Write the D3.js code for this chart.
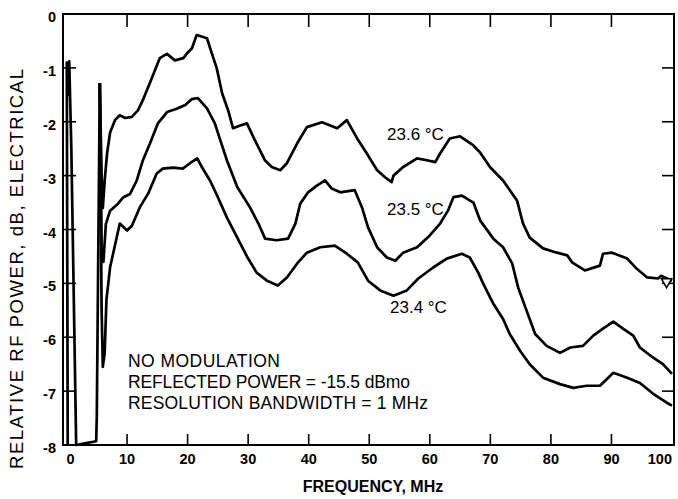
<!DOCTYPE html>
<html>
<head>
<meta charset="utf-8">
<script src="https://cdn.jsdelivr.net/npm/d3@7"></script>
<style>
  body { margin: 0; background: #fff; }
  text { font-family: "Liberation Sans", Arial, sans-serif; fill: #000; }
</style>
</head>
<body>
<div id="chart"></div>
<script>
// tick values
var xTicks = [0, 10, 20, 30, 40, 50, 60, 70, 80, 90, 100];
var yTicks = [0, -1, -2, -3, -4, -5, -6, -7, -8];

// low-frequency part shared by all sweeps (MHz, dB)
var freqBase = [0.2, 0.05, 0.25, 0.45, 0.8, 1.6, 3.0, 4.9, 5.0, 5.5];
var dbBase = [-8, -0.9, -1.5, -0.88, -2.5, -8, -7.97, -7.93, -7.5, -1.28];

// 23.6 °C sweep
var freq236 = [5.5, 5.8, 6.0, 6.3, 6.7, 7.2, 8.0, 8.8, 9.7, 10.8, 11.8, 12.6, 13.8, 15.4, 16.6, 17.9, 19.3, 19.9, 20.7, 21.5, 23.2, 24.0, 24.8, 25.7, 26.7, 27.5, 28.7, 29.8, 31.1, 32.8, 33.9, 35.3, 36.4, 38.1, 39.7, 42.2, 44.7, 46.3, 48.0, 49.6, 51.3, 52.6, 53.7, 54.0, 55.6, 57.9, 59.7, 60.9, 61.7, 63.3, 65.0, 67.2, 68.3, 70.0, 72.1, 74.4, 75.4, 76.5, 78.7, 81.0, 82.7, 83.5, 85.6, 88.1, 88.6, 90.1, 92.6, 94.2, 95.9, 97.7, 98.2, 100];
var db236 = [-1.28, -3.0, -3.6, -3.1, -2.59, -2.2, -1.97, -1.88, -1.93, -1.91, -1.79, -1.6, -1.27, -0.82, -0.74, -0.86, -0.82, -0.73, -0.64, -0.39, -0.45, -0.73, -1.0, -1.47, -1.79, -2.12, -2.07, -2.03, -2.34, -2.72, -2.84, -2.9, -2.77, -2.4, -2.1, -2.01, -2.12, -1.97, -2.31, -2.59, -2.9, -3.03, -3.12, -3.0, -2.84, -2.68, -2.72, -2.75, -2.59, -2.31, -2.27, -2.44, -2.57, -2.85, -3.09, -3.46, -3.89, -4.15, -4.35, -4.43, -4.48, -4.61, -4.76, -4.67, -4.45, -4.43, -4.54, -4.73, -4.89, -4.91, -4.86, -4.95];

// 23.5 °C sweep
var freq235 = [5.5, 5.8, 6.1, 6.5, 7.2, 8.5, 9.4, 10.5, 11.6, 12.6, 13.8, 15.1, 16.6, 18.2, 19.6, 20.7, 21.7, 23.2, 24.5, 25.4, 26.5, 28.2, 30.3, 31.7, 32.8, 34.7, 36.6, 37.8, 38.6, 39.9, 41.4, 42.7, 43.8, 45.2, 47.6, 48.8, 49.8, 51.3, 52.9, 54.3, 55.6, 57.9, 60.0, 61.7, 63.0, 63.9, 65.3, 67.2, 68.3, 70.5, 72.1, 73.6, 74.6, 76.0, 77.4, 79.3, 81.5, 83.2, 85.3, 87.0, 88.6, 90.3, 91.9, 93.6, 94.7, 96.9, 98.5, 100];
var db235 = [-1.28, -4.4, -4.6, -3.9, -3.65, -3.52, -3.4, -3.34, -3.09, -2.72, -2.4, -2.03, -1.82, -1.76, -1.69, -1.58, -1.56, -1.75, -2.03, -2.34, -2.72, -3.21, -3.59, -3.89, -4.17, -4.2, -4.17, -3.89, -3.52, -3.31, -3.18, -3.09, -3.24, -3.31, -3.27, -3.59, -3.96, -4.33, -4.52, -4.58, -4.43, -4.33, -4.11, -3.89, -3.65, -3.4, -3.37, -3.5, -3.83, -4.17, -4.33, -4.63, -5.08, -5.51, -5.94, -6.16, -6.29, -6.19, -6.16, -5.97, -5.84, -5.71, -5.84, -5.97, -6.19, -6.38, -6.5, -6.68];

// 23.4 °C sweep
var freq234 = [5.5, 5.8, 6.0, 6.3, 6.6, 7.2, 8.8, 10.0, 10.8, 12.1, 13.5, 14.9, 15.9, 17.6, 19.2, 20.4, 21.6, 22.4, 23.7, 25.0, 26.5, 28.2, 29.8, 31.4, 33.1, 34.9, 36.4, 38.1, 39.7, 41.9, 44.3, 46.3, 48.1, 49.8, 51.8, 54.0, 56.2, 58.1, 60.5, 62.8, 65.3, 66.6, 68.0, 68.8, 70.5, 72.1, 73.2, 74.9, 76.5, 78.7, 81.5, 83.7, 85.9, 88.1, 89.3, 90.3, 92.6, 94.7, 96.9, 99.2, 100];
var db234 = [-1.28, -5.5, -6.55, -6.3, -5.3, -4.7, -3.89, -4.02, -3.93, -3.59, -3.33, -2.96, -2.87, -2.85, -2.87, -2.77, -2.68, -2.85, -3.09, -3.4, -3.78, -4.15, -4.5, -4.8, -4.95, -5.04, -4.89, -4.63, -4.43, -4.33, -4.3, -4.45, -4.61, -4.95, -5.13, -5.23, -5.13, -4.91, -4.71, -4.54, -4.45, -4.52, -4.8, -5.0, -5.38, -5.66, -5.94, -6.25, -6.5, -6.75, -6.87, -6.94, -6.9, -6.9, -6.77, -6.66, -6.75, -6.85, -7.05, -7.22, -7.27];

var curveLabels = ["23.6 \u00B0C", "23.5 \u00B0C", "23.4 \u00B0C"];
var notes = ["NO MODULATION", "REFLECTED POWER = -15.5 dBmo", "RESOLUTION BANDWIDTH = 1 MHz"];

var width = 678, height = 499;
var frameL = 63, frameR = 674, frameT = 14, frameB = 445;

var svg = d3.select("#chart").append("svg")
  .attr("width", width).attr("height", height);

var x = d3.scaleLinear().domain([0, 100]).range([66.5, 672]);
var y = d3.scaleLinear().domain([0, -8]).range([frameT, frameB]);

// frame
svg.append("rect")
  .attr("x", frameL).attr("y", frameT)
  .attr("width", frameR - frameL).attr("height", frameB - frameT)
  .attr("fill", "none").attr("stroke", "#000").attr("stroke-width", 2);

var ticks = svg.append("g").attr("stroke", "#000").attr("stroke-width", 1.6);
var inner = yTicks.slice(1, -1), innerX = xTicks.slice(1, -1);
ticks.selectAll(".tl").data(inner).enter().append("line")
  .attr("x1", frameL).attr("x2", frameL + 13)
  .attr("y1", function(d){ return y(d) }).attr("y2", function(d){ return y(d) });
ticks.selectAll(".tr").data(inner).enter().append("line")
  .attr("x1", frameR - 12).attr("x2", frameR)
  .attr("y1", function(d){ return y(d) }).attr("y2", function(d){ return y(d) });
ticks.selectAll(".tt").data(innerX).enter().append("line")
  .attr("x1", function(d){ return x(d) }).attr("x2", function(d){ return x(d) })
  .attr("y1", frameT).attr("y2", frameT + 13);
ticks.selectAll(".tb").data(innerX).enter().append("line")
  .attr("x1", function(d){ return x(d) }).attr("x2", function(d){ return x(d) })
  .attr("y1", frameB - 11).attr("y2", frameB);

// tick labels
svg.append("g").selectAll("text").data(yTicks).enter().append("text")
  .attr("x", 56).attr("y", function(d){ return y(d) + 3 })
  .attr("dy", "0.35em").attr("text-anchor", "end")
  .attr("font-size", 14.5).attr("font-weight", "bold")
  .text(function(d){ return d });

svg.append("g").selectAll("text").data(xTicks).enter().append("text")
  .attr("x", function(d){ return x(d) }).attr("y", 464)
  .attr("text-anchor", function(d, i){ return i == 0 ? "start" : i == xTicks.length - 1 ? "end" : "middle" })
  .attr("font-size", 14.5).attr("font-weight", "bold")
  .text(function(d){ return d });

// axis titles
svg.append("text")
  .attr("x", 373).attr("y", 492).attr("text-anchor", "middle")
  .attr("font-size", 16).attr("font-weight", "bold")
  .text("FREQUENCY, MHz");

svg.append("text")
  .attr("transform", "translate(23,269) rotate(-90)")
  .attr("text-anchor", "middle").attr("font-size", 18.5)
  .attr("textLength", 400).attr("lengthAdjust", "spacing")
  .text("RELATIVE RF POWER, dB, ELECTRICAL");

// traces
var line = d3.line()
  .x(function(d){ return x(d[0]) })
  .y(function(d){ return y(d[1]) });

var series = [[freqBase, dbBase], [freq236, db236], [freq235, db235], [freq234, db234]];
svg.append("g").selectAll("path").data(series).enter().append("path")
  .attr("d", function(s){ return line(d3.zip(s[0], s[1])) })
  .attr("fill", "none").attr("stroke", "#000")
  .attr("stroke-width", 2.7).attr("stroke-linejoin", "round");

// small end marker on the top trace
svg.append("path")
  .attr("d", d3.symbol(d3.symbolTriangle, 45))
  .attr("transform", "translate(" + x(99.1) + "," + y(-4.97) + ") rotate(180)")
  .attr("fill", "#fff").attr("stroke", "#000").attr("stroke-width", 1.6);

// curve labels
var labelPos = [[387, 140], [387, 215], [390, 313]];
svg.append("g").selectAll("text").data(curveLabels).enter().append("text")
  .attr("x", function(d, i){ return labelPos[i][0] })
  .attr("y", function(d, i){ return labelPos[i][1] })
  .attr("font-size", 17)
  .text(function(d){ return d });

// notes
var noteLen = [152, 282, 300];
svg.append("g").selectAll("text").data(notes).enter().append("text")
  .attr("x", 128).attr("y", function(d, i){ return 367 + i * 21 })
  .attr("font-size", 17.5)
  .attr("textLength", function(d, i){ return noteLen[i] }).attr("lengthAdjust", "spacing")
  .text(function(d){ return d });
</script>
</body>
</html>
